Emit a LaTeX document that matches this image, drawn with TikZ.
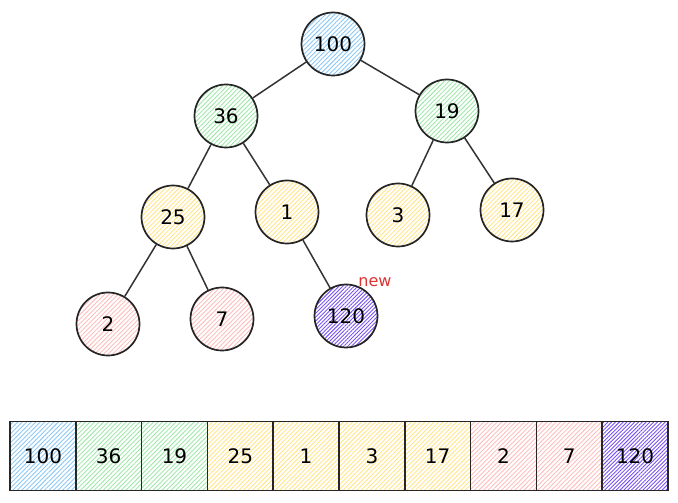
\documentclass[tikz,border=0pt]{standalone}
\usepackage{fontspec}
\setmainfont{DejaVu Sans}
\usetikzlibrary{patterns.meta}
\definecolor{cblue}{HTML}{8CC8F5}
\definecolor{cgreen}{HTML}{A0E8AA}
\definecolor{cyellow}{HTML}{FFE488}
\definecolor{cred}{HTML}{FFBDBD}
\definecolor{cpurple}{HTML}{7950F2}
\definecolor{cnew}{HTML}{E03131}
\tikzset{
  hatch/.style={pattern={Lines[angle=45,distance=3.2pt,line width=0.9pt]},pattern color=#1},
  dhatch/.style={pattern={Lines[angle=45,distance=2.7pt,line width=0.9pt]},pattern color=#1},
  tnode/.style={circle,draw=black!85,line width=1.7pt,minimum size=63pt,inner sep=0pt,font=\fontsize{20}{22}\selectfont},
  cell/.style={rectangle,draw=black!85,line width=1.7pt,minimum width=65.8pt,minimum height=69pt,inner sep=0pt,font=\fontsize{20}{22}\selectfont},
  edge/.style={line width=1.5pt,draw=black!80}
}
\begin{document}
\begin{tikzpicture}[x=1pt,y=1pt]
\useasboundingbox (0,0) rectangle (678,503);
% tree
\node[tnode,hatch=cblue] (n100) at (333,459) {100};
\node[tnode,hatch=cgreen] (n36) at (226,387) {36};
\node[tnode,hatch=cgreen] (n19) at (447,392) {19};
\node[tnode,hatch=cyellow] (n25) at (173,286) {25};
\node[tnode,hatch=cyellow] (n1) at (287,291) {1};
\node[tnode,hatch=cyellow] (n3) at (398,288) {3};
\node[tnode,hatch=cyellow] (n17) at (512,293) {17};
\node[tnode,hatch=cred] (n2) at (108,179) {2};
\node[tnode,hatch=cred] (n7) at (222,184) {7};
\node[tnode,dhatch=cpurple] (n120) at (346,187) {120};
\node[text=cnew,font=\fontsize{16}{18}\selectfont,inner sep=0pt] (lnew) at (375,221) {new};
\draw[edge] (n100) -- (n36);
\draw[edge] (n100) -- (n19);
\draw[edge] (n36) -- (n25);
\draw[edge] (n36) -- (n1);
\draw[edge] (n19) -- (n3);
\draw[edge] (n19) -- (n17);
\draw[edge] (n25) -- (n2);
\draw[edge] (n25) -- (n7);
\draw[edge] (n1) -- (n120);
% array
\node[cell,hatch=cblue] (a0) at (42.9,47) {100};
\node[cell,hatch=cgreen] (a1) at (108.7,47) {36};
\node[cell,hatch=cgreen] (a2) at (174.5,47) {19};
\node[cell,hatch=cyellow] (a3) at (240.3,47) {25};
\node[cell,hatch=cyellow] (a4) at (306.1,47) {1};
\node[cell,hatch=cyellow] (a5) at (371.9,47) {3};
\node[cell,hatch=cyellow] (a6) at (437.7,47) {17};
\node[cell,hatch=cred] (a7) at (503.5,47) {2};
\node[cell,hatch=cred] (a8) at (569.3,47) {7};
\node[cell,dhatch=cpurple] (a9) at (635.1,47) {120};
\end{tikzpicture}
\end{document}
